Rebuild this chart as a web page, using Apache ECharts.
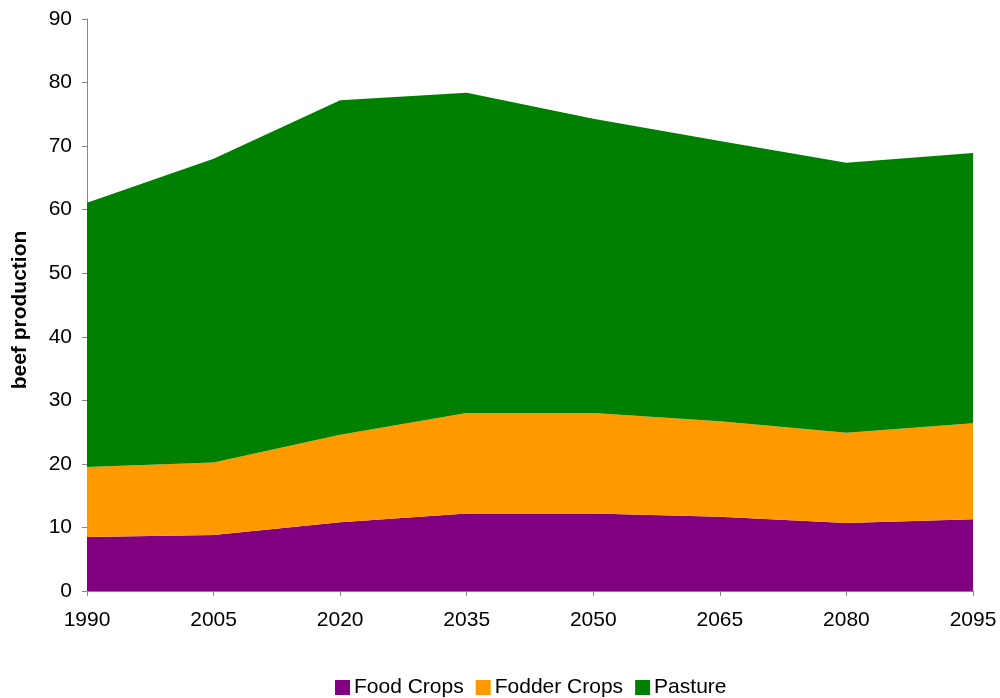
<!DOCTYPE html>
<html>
<head>
<meta charset="utf-8">
<script src="https://cdn.jsdelivr.net/npm/echarts@6/dist/echarts.min.js"></script>
<style>
  html, body { margin: 0; padding: 0; background: #fff; }
  #main { width: 1000px; height: 698px; }
</style>
</head>
<body>
<div id="main"></div>
<script>
// years on the x axis
var years = ['1990', '2005', '2020', '2035', '2050', '2065', '2080', '2095'];
// stacked layers
var foodCrops = [8.5, 8.8, 10.8, 12.2, 12.2, 11.7, 10.7, 11.3];
var fodderCrops = [11.0, 11.4, 13.8, 15.8, 15.8, 15.0, 14.2, 15.1];
var pasture = [41.6, 47.8, 52.6, 50.4, 46.3, 44.1, 42.5, 42.5];
var colors = ['#800080', '#ff9900', '#008000'];

var chart = echarts.init(document.getElementById('main'));

function layer(name, data, color) {
    return {
        name: name,
        type: 'line',
        stack: 'total',
        data: data,
        symbol: 'none',
        lineStyle: { width: 0 },
        areaStyle: { color: color, opacity: 1 },
        itemStyle: { color: color },
        emphasis: { disabled: true }
    };
}

chart.setOption({
    animation: false,
    textStyle: { fontFamily: 'Liberation Sans, Arial, sans-serif' },
    grid: { left: 87, right: 27, top: 19, bottom: 107 },
    legend: {
        top: 672,
        left: 330,
        itemWidth: 15,
        itemHeight: 15,
        itemGap: 12,
        icon: 'rect',
        textStyle: { fontSize: 21, color: '#000', padding: [0, 0, 0, -1] },
        data: ['Food Crops', 'Fodder Crops', 'Pasture']
    },
    xAxis: {
        type: 'category',
        data: years,
        boundaryGap: false,
        axisLine: { lineStyle: { color: '#868686', width: 1 } },
        axisTick: { show: true, length: 5, alignWithLabel: true, lineStyle: { color: '#868686' } },
        axisLabel: { fontSize: 21, color: '#000', margin: 19 },
        splitLine: { show: false }
    },
    yAxis: {
        type: 'value',
        min: 0,
        max: 90,
        interval: 10,
        name: 'beef production',
        nameLocation: 'middle',
        nameGap: 56,
        nameTextStyle: { fontSize: 21, fontWeight: 'bold', color: '#000', padding: [0, 10, 0, 0] },
        axisLine: { show: true, lineStyle: { color: '#868686', width: 1 } },
        axisTick: { show: true, length: 5, lineStyle: { color: '#868686' } },
        axisLabel: { fontSize: 21, color: '#000', margin: 15 },
        splitLine: { show: false }
    },
    series: [
        layer('Food Crops', foodCrops, colors[0]),
        layer('Fodder Crops', fodderCrops, colors[1]),
        layer('Pasture', pasture, colors[2])
    ]
});
</script>
</body>
</html>
